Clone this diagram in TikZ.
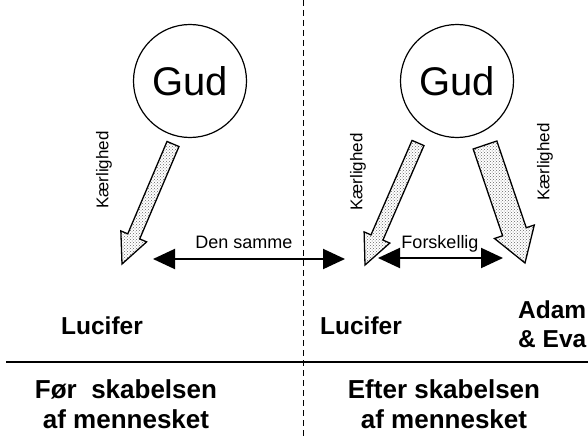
\documentclass[tikz,border=0pt]{standalone}
\usepackage{fontspec}
\setmainfont{Liberation Sans}
\usetikzlibrary{arrows.meta,calc,patterns}
\tikzset{
  >=stealth,
  line cap=round,
  line join=round,
  gudcirkel/.style={draw, circle, minimum size=113pt, inner sep=0pt, line width=1.2pt, font=\fontsize{40}{48}\selectfont},
  navn/.style={font=\bfseries\fontsize{24.5}{29}\selectfont, align=left, inner sep=0pt},
  periode/.style={font=\bfseries\fontsize{26}{30}\selectfont, align=center, inner sep=0pt},
  kaer/.style={font=\fontsize{17}{20}\selectfont, rotate=90, inner sep=0pt},
  sammenlign/.style={font=\fontsize{18}{20}\selectfont, inner sep=0pt},
  dobbeltpil/.style={{Triangle[length=22pt,width=20pt]}-{Triangle[length=22pt,width=20pt]}, line width=2pt},
  blokpilstil/.style={draw, line width=1.3pt, pattern=crosshatch dots, pattern color=black!60}
}
% fra, til, halv skaftbredde, halv hovedbredde, hovedlaengde
\newcommand\blokpil[5]{%
  \draw[blokpilstil] let \p1=(#1), \p2=(#2), \n1={atan2(\y2-\y1,\x2-\x1)} in
    ($(\p1)+({\n1+90}:#3)$) -- ($(\p2)+({\n1+180}:#5)+({\n1+90}:#3)$)
    -- ($(\p2)+({\n1+180}:#5)+({\n1+90}:#4)$) -- (\p2)
    -- ($(\p2)+({\n1+180}:#5)+({\n1-90}:#4)$) -- ($(\p2)+({\n1+180}:#5)+({\n1-90}:#3)$)
    -- ($(\p1)+({\n1-90}:#3)$) -- cycle;}

\begin{document}
\begin{tikzpicture}[x=1pt,y=-1pt]
  \useasboundingbox (0,0) rectangle (588,436);

  % skillelinjer
  \draw[line width=1pt, dash pattern=on 6pt off 4pt] (303,0) -- (303,436);
  \draw[line width=1.6pt] (6,362) -- (588,362);

  \node[gudcirkel] (gudfoer) at (190,81) {Gud};
  \node[gudcirkel] (gudefter) at (457,81) {Gud};

  \node[navn] (luciferfoer) at (102,326) {Lucifer};
  \node[navn] (luciferefter) at (361,326) {Lucifer};
  \node[navn, anchor=west] (adameva) at (518,324) {Adam\\\& Eva};

  \node[periode] (foer) at (126,404) {Før\ \ skabelsen\\af mennesket};
  \node[periode] (efter) at (444,404) {Efter skabelsen\\af mennesket};

  % kaerlighedspile
  \coordinate (kaerfoerA) at (173,144);
  \coordinate (kaerfoerB) at (122,264);
  \coordinate (kaerlucA) at (418,143);
  \coordinate (kaerlucB) at (365,265);
  \coordinate (kaeradamA) at (485,145);
  \coordinate (kaeradamB) at (525,263);
  \blokpil{kaerfoerA}{kaerfoerB}{6.5pt}{14pt}{30pt}
  \blokpil{kaerlucA}{kaerlucB}{6.5pt}{14pt}{30pt}
  \blokpil{kaeradamA}{kaeradamB}{12.5pt}{21pt}{33pt}

  \node[kaer] (kaerfoer) at (104,170) {Kærlighed};
  \node[kaer] (kaerluc) at (358,172) {Kærlighed};
  \node[kaer] (kaeradam) at (545,162) {Kærlighed};

  % sammenligninger
  \coordinate (sammeA) at (153,259);
  \coordinate (sammeB) at (345,259);
  \coordinate (forskA) at (378,258);
  \coordinate (forskB) at (503,258);
  \draw[dobbeltpil] (sammeA) -- (sammeB);
  \draw[dobbeltpil] (forskA) -- (forskB);
  \node[sammenlign] (densamme) at (244,242) {Den samme};
  \node[sammenlign] (forskellig) at (440,244) {Forskellig};
\end{tikzpicture}
\end{document}
